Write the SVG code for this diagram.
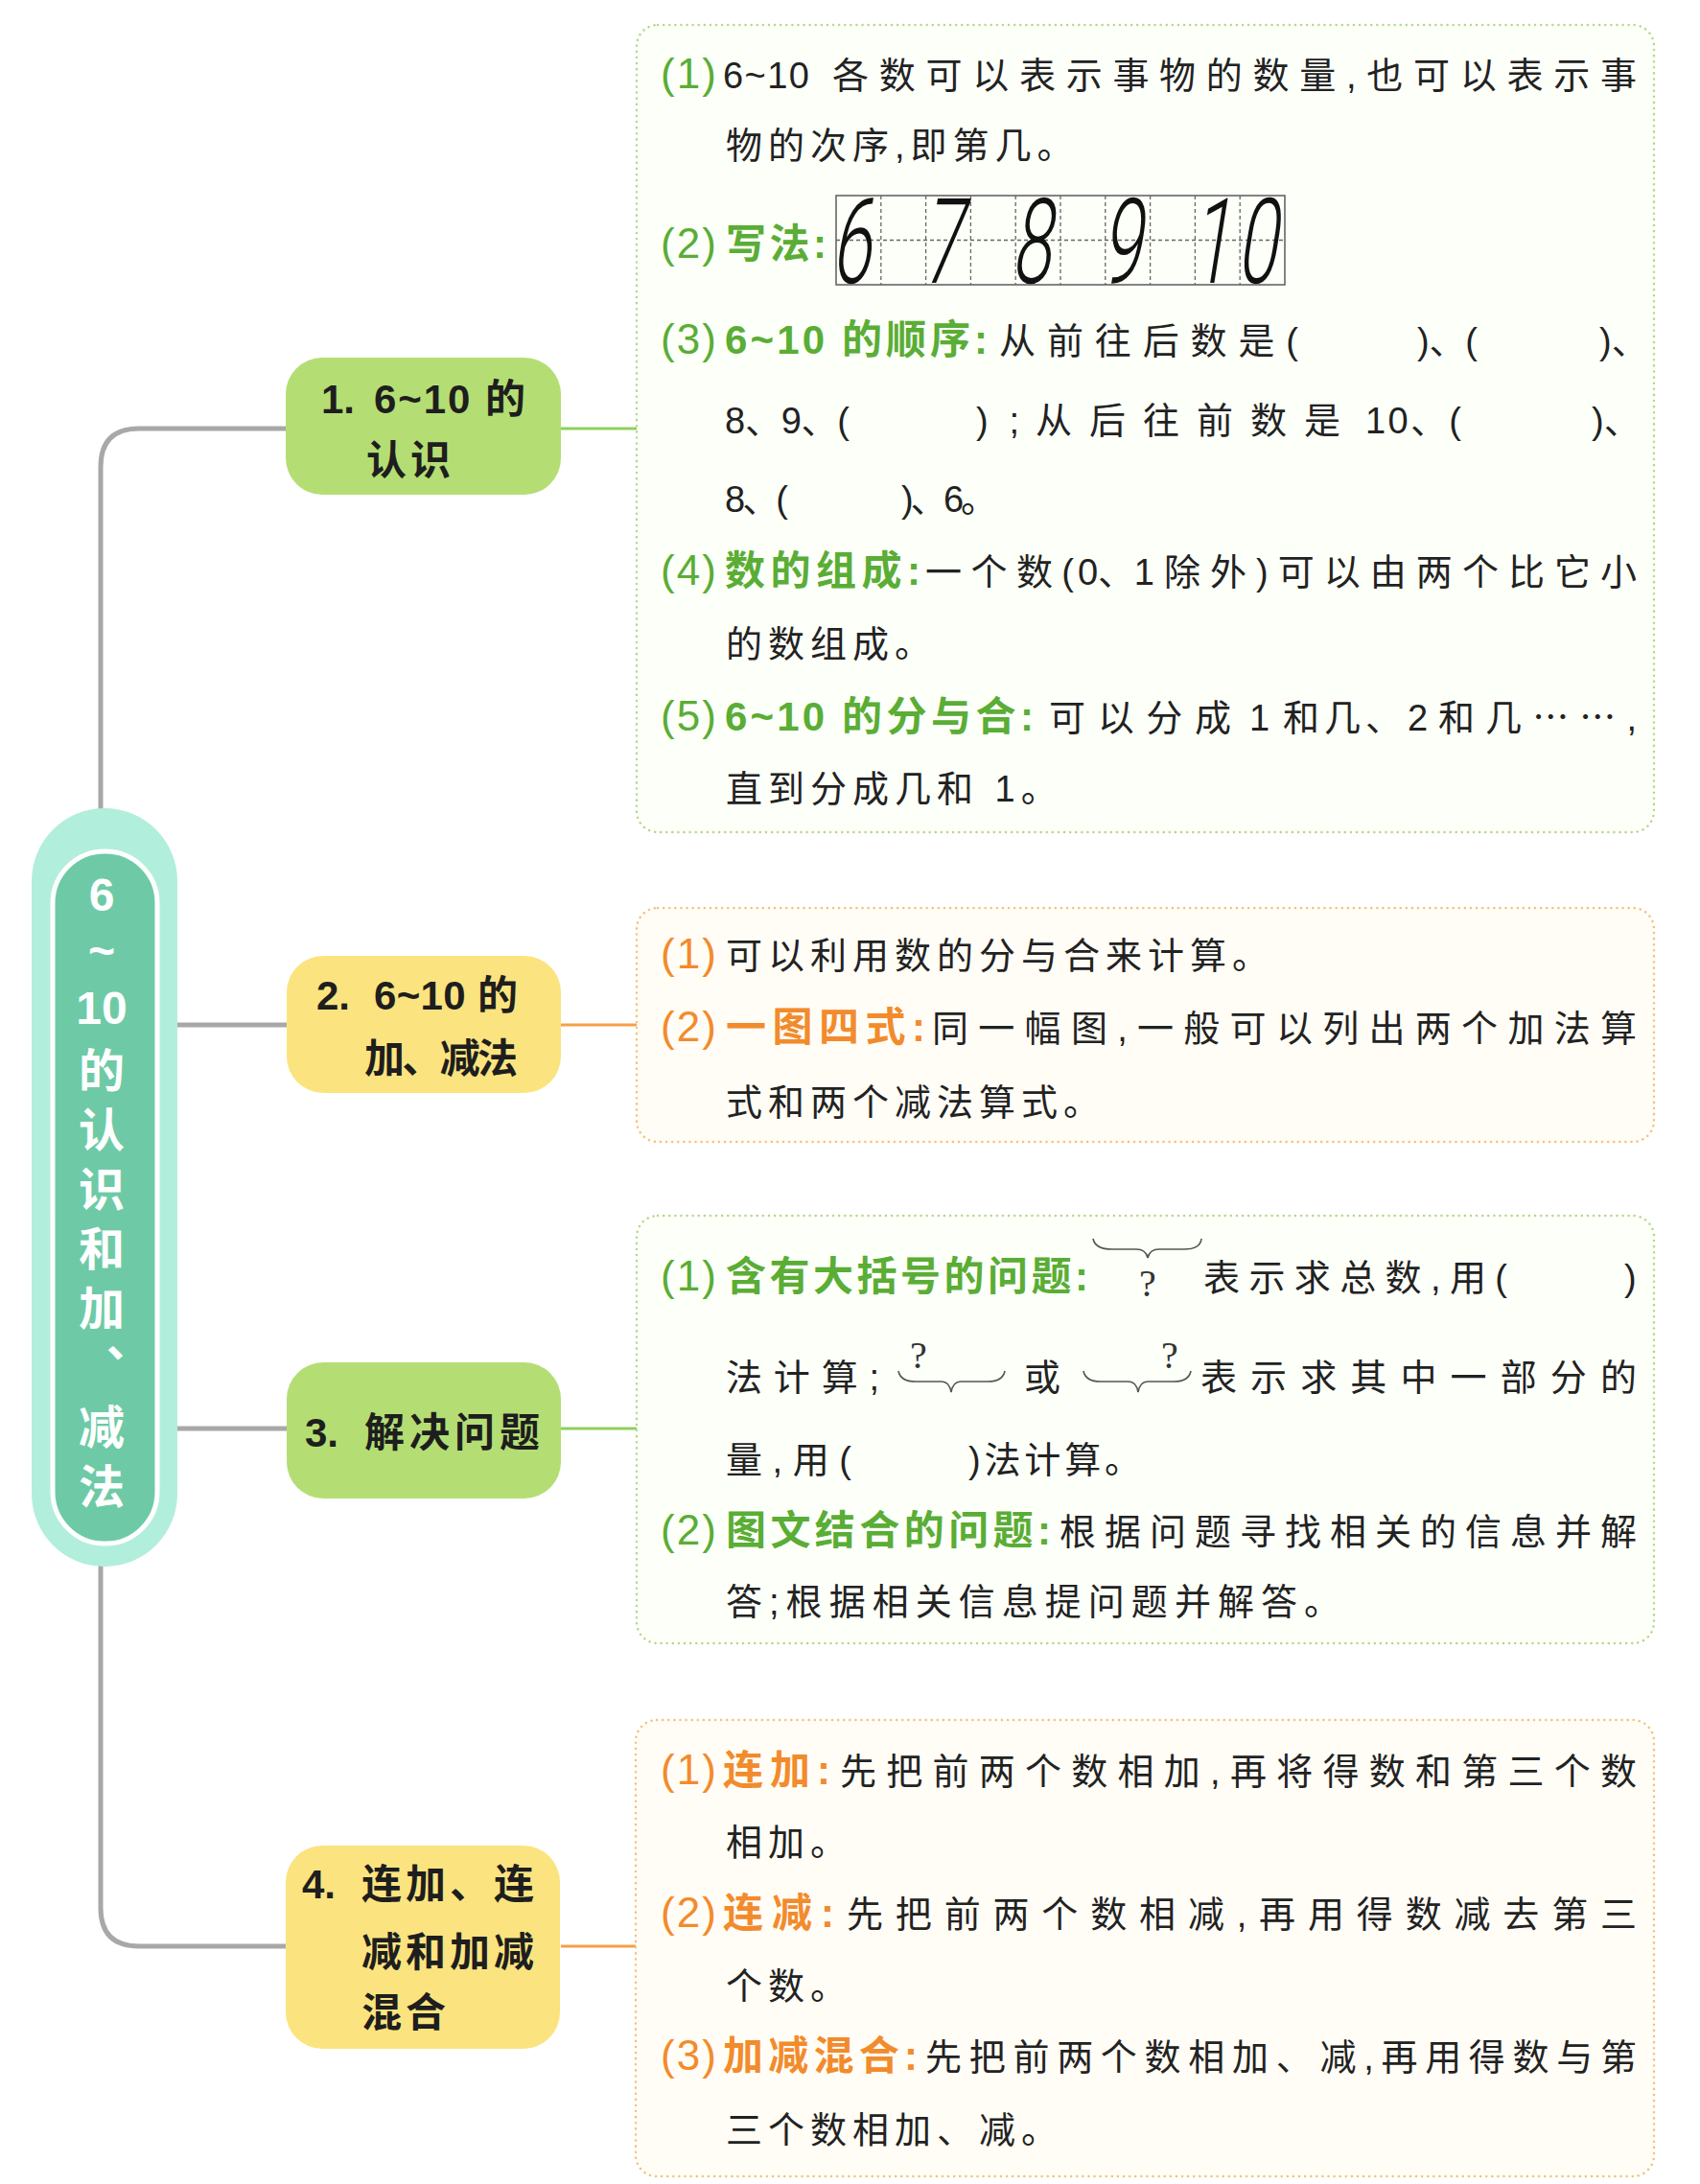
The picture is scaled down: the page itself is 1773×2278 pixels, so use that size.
<svg xmlns="http://www.w3.org/2000/svg" width="1773" height="2278" viewBox="0 0 1773 2278">
<style>
.b{font-family:'Liberation Sans','Noto Sans CJK SC',sans-serif;font-size:38px;fill:#222}
.ls{letter-spacing:6px}
.pg{font-family:'Liberation Sans',sans-serif;font-size:44px;fill:#5aad35}
.po{font-family:'Liberation Sans',sans-serif;font-size:44px;fill:#f28b2c}
.lg{font-family:'Liberation Sans','Noto Sans CJK SC',sans-serif;font-size:42px;font-weight:700;fill:#5aad35}
.lo{font-family:'Liberation Sans','Noto Sans CJK SC',sans-serif;font-size:42px;font-weight:700;fill:#f28b2c}
.nt{font-family:'Liberation Sans','Noto Sans CJK SC',sans-serif;font-size:42px;font-weight:700;fill:#1e1e1e}
.rt{font-family:'Liberation Sans','Noto Sans CJK SC',sans-serif;font-size:48px;font-weight:700;fill:#fff;text-anchor:middle}
.rv{font-family:'Noto Sans CJK SC',sans-serif;font-size:48px;font-weight:700;fill:#fff;writing-mode:vertical-rl;text-orientation:upright;letter-spacing:14px}
.gbox{fill:#fdfff9;stroke:#b4d98a;stroke-width:2.5;stroke-dasharray:0.1 6;stroke-linecap:round}
.obox{fill:#fffdf6;stroke:#f3c27c;stroke-width:2.5;stroke-dasharray:0.1 6;stroke-linecap:round}
.gn{fill:#b4de74}
.yn{fill:#fbe47f}
.gray{fill:none;stroke:#a8a8a8;stroke-width:5}
.cg{stroke:#8fcf5c;stroke-width:3}
.co{stroke:#f5a04a;stroke-width:3}
.hw{font-family:Roboto,'Liberation Sans',sans-serif;font-weight:300;font-size:124px;fill:#111;text-anchor:middle}
.dash{stroke:#666;stroke-width:1.3;stroke-dasharray:4 3}
.brace{fill:none;stroke:#555;stroke-width:1.6}
.q{font-family:'Liberation Serif',serif;font-size:40px;fill:#333;text-anchor:middle}
</style>

<g id="connectors">
  <path class="gray" d="M300 447 H145 Q105 447 105 487 V1990 Q105 2030 145 2030 H300"/>
  <path class="gray" d="M185 1069 H300 M185 1490 H300"/>
  <line class="cg" x1="585" y1="447" x2="664" y2="447"/>
  <line class="co" x1="585" y1="1069" x2="664" y2="1069"/>
  <line class="cg" x1="585" y1="1490" x2="664" y2="1490"/>
  <line class="co" x1="585" y1="2030" x2="663" y2="2030"/>
</g>

<g id="root">
  <rect x="33" y="843" width="152" height="791" rx="76" fill="#b2eedc"/>
  <rect x="55" y="888" width="109" height="722" rx="54" fill="#6ecaa6" stroke="#ffffff" stroke-width="5"/>
  <text class="rt" x="106" y="950">6</text>
  <text class="rt" x="106" y="1008">~</text>
  <text class="rt" x="106" y="1068">10</text>
  <text class="rv" x="106" y="1092">的认识和加、减法</text>
</g>

<g id="node1">
  <rect class="gn" x="298" y="373" width="287" height="143" rx="38"/>
  <text class="nt" x="335" y="431">1.</text>
  <text class="nt" x="390" y="431" textLength="158" lengthAdjust="spacing">6~10 的</text>
  <text class="nt" x="382" y="495" textLength="88" lengthAdjust="spacing">认识</text>
</g>

<g id="node2">
  <rect class="yn" x="299" y="997" width="286" height="143" rx="38"/>
  <text class="nt" x="330" y="1053">2.</text>
  <text class="nt" x="390" y="1053" textLength="150" lengthAdjust="spacing">6~10 的</text>
  <text class="nt" x="380" y="1119" textLength="160" lengthAdjust="spacing">加、减法</text>
</g>

<g id="node3">
  <rect class="gn" x="299" y="1421" width="286" height="142" rx="38"/>
  <text class="nt" x="318" y="1509">3.</text>
  <text class="nt" x="380" y="1509" textLength="183" lengthAdjust="spacing">解决问题</text>
</g>

<g id="node4">
  <rect class="yn" x="298" y="1925" width="286" height="212" rx="38"/>
  <text class="nt" x="315" y="1980">4.</text>
  <text class="nt" x="377" y="1980" textLength="180" lengthAdjust="spacing">连加、连</text>
  <text class="nt" x="377" y="2051" textLength="180" lengthAdjust="spacing">减和加减</text>
  <text class="nt" x="377" y="2114" textLength="88" lengthAdjust="spacing">混合</text>
</g>

<g id="box1">
  <rect class="gbox" x="664" y="26" width="1061" height="842" rx="22"/>
  <text class="pg" x="689" y="92" textLength="58" lengthAdjust="spacing">(1)</text>
  <text class="b" x="754" y="92" textLength="90" lengthAdjust="spacing">6~10</text>
  <text class="b" x="868" y="92" textLength="839" lengthAdjust="spacing">各数可以表示事物的数量,也可以表示事</text>
  <text class="b ls" x="757" y="165">物的次序,即第几。</text>

  <text class="pg" x="689" y="269" textLength="58" lengthAdjust="spacing">(2)</text>
  <text class="lg" x="757" y="269" textLength="105" lengthAdjust="spacing">写法:</text>
  <g id="grid">
    <rect x="872" y="204" width="468" height="93" fill="none" stroke="#666" stroke-width="1.6"/>
    <path class="dash" d="M918.8 204V297 M965.6 204V297 M1012.4 204V297 M1059.2 204V297 M1106 204V297 M1152.8 204V297 M1199.6 204V297 M1246.4 204V297 M1293.2 204V297 M872 250.5H1340"/>
    <text class="hw" transform="translate(887,295) skewX(-9) scale(0.6,1)">6</text>
    <text class="hw" transform="translate(982,295) skewX(-9) scale(0.6,1)">7</text>
    <text class="hw" transform="translate(1075,295) skewX(-9) scale(0.6,1)">8</text>
    <text class="hw" transform="translate(1169,295) skewX(-9) scale(0.6,1)">9</text>
    <text class="hw" transform="translate(1262,295) skewX(-9) scale(0.6,1)">1</text>
    <text class="hw" transform="translate(1310,295) skewX(-9) scale(0.6,1)">0</text>
  </g>

  <text class="pg" x="689" y="369" textLength="58" lengthAdjust="spacing">(3)</text>
  <text class="lg" x="756" y="369" textLength="104" lengthAdjust="spacing">6~10</text>
  <text class="lg" x="878" y="369" textLength="152" lengthAdjust="spacing">的顺序:</text>
  <text class="b" x="1042" y="369" textLength="312" lengthAdjust="spacing">从前往后数是(</text>
  <text class="b" x="1478" y="369" textLength="63" lengthAdjust="spacing">)、(</text>
  <text class="b" x="1668" y="369">)、</text>

  <text class="b" x="756" y="452" textLength="130" lengthAdjust="spacing">8、9、(</text>
  <text class="b" x="1018" y="452" textLength="45" lengthAdjust="spacing">);</text>
  <text class="b" x="1080" y="452" textLength="318" lengthAdjust="spacing">从后往前数是</text>
  <text class="b" x="1424" y="452" textLength="100" lengthAdjust="spacing">10、(</text>
  <text class="b" x="1660" y="452">)、</text>

  <text class="b" x="756" y="534" textLength="66" lengthAdjust="spacing">8、(</text>
  <text class="b" x="940" y="534" textLength="100" lengthAdjust="spacing">)、6。</text>

  <text class="pg" x="689" y="610" textLength="58" lengthAdjust="spacing">(4)</text>
  <text class="lg" x="756" y="610" textLength="204" lengthAdjust="spacing">数的组成:</text>
  <text class="b" x="965" y="610" textLength="155" lengthAdjust="spacing">一个数(</text>
  <text class="b" x="1124" y="610" textLength="80" lengthAdjust="spacing">0、1</text>
  <text class="b" x="1214" y="610" textLength="493" lengthAdjust="spacing">除外)可以由两个比它小</text>
  <text class="b ls" x="757" y="685">的数组成。</text>

  <text class="pg" x="689" y="762" textLength="58" lengthAdjust="spacing">(5)</text>
  <text class="lg" x="756" y="762" textLength="104" lengthAdjust="spacing">6~10</text>
  <text class="lg" x="878" y="762" textLength="200" lengthAdjust="spacing">的分与合:</text>
  <text class="b" x="1094" y="762" textLength="190" lengthAdjust="spacing">可以分成</text>
  <text class="b" x="1303" y="762">1</text>
  <text class="b" x="1338" y="762" textLength="124" lengthAdjust="spacing">和几、</text>
  <text class="b" x="1468" y="762">2</text>
  <text class="b" x="1500" y="762" textLength="207" lengthAdjust="spacing">和几<tspan font-family="Noto Sans CJK SC">……</tspan>,</text>
  <text class="b ls" x="757" y="836">直到分成几和 1。</text>
</g>

<g id="box2">
  <rect class="obox" x="664" y="947" width="1061" height="244" rx="22"/>
  <text class="po" x="689" y="1010" textLength="58" lengthAdjust="spacing">(1)</text>
  <text class="b ls" x="757" y="1010">可以利用数的分与合来计算。</text>
  <text class="po" x="689" y="1086" textLength="58" lengthAdjust="spacing">(2)</text>
  <text class="lo" x="757" y="1086" textLength="208" lengthAdjust="spacing">一图四式:</text>
  <text class="b" x="972" y="1086" textLength="735" lengthAdjust="spacing">同一幅图,一般可以列出两个加法算</text>
  <text class="b ls" x="757" y="1163">式和两个减法算式。</text>
</g>

<g id="box3">
  <rect class="gbox" x="664" y="1268" width="1061" height="446" rx="22"/>
  <text class="pg" x="689" y="1346" textLength="58" lengthAdjust="spacing">(1)</text>
  <text class="lg" x="757" y="1346" textLength="378" lengthAdjust="spacing">含有大括号的问题:</text>
  <path class="brace" d="M1140 1292 Q1142 1303 1160 1303 L1185 1303 Q1195 1303 1197 1312 Q1199 1303 1209 1303 L1235 1303 Q1252 1303 1253 1292"/>
  <text class="q" x="1197" y="1352">?</text>
  <text class="b" x="1255" y="1346" textLength="317" lengthAdjust="spacing">表示求总数,用(</text>
  <text class="b" x="1694" y="1346">)</text>

  <text class="b" x="757" y="1450" textLength="160" lengthAdjust="spacing">法计算;</text>
  <path class="brace" d="M937 1430 Q939 1441 955 1441 L982 1441 Q990 1441 992 1452 Q994 1441 1002 1441 L1030 1441 Q1046 1441 1048 1430"/>
  <text class="q" x="958" y="1427">?</text>
  <text class="b" x="1068" y="1450">或</text>
  <path class="brace" d="M1130 1430 Q1132 1441 1148 1441 L1177 1441 Q1185 1441 1187 1452 Q1189 1441 1197 1441 L1224 1441 Q1240 1441 1242 1430"/>
  <text class="q" x="1220" y="1427">?</text>
  <text class="b" x="1252" y="1450" textLength="455" lengthAdjust="spacing">表示求其中一部分的</text>

  <text class="b" x="757" y="1536" textLength="131" lengthAdjust="spacing">量,用(</text>
  <text class="b" x="1010" y="1536" textLength="180" lengthAdjust="spacing">)法计算。</text>

  <text class="pg" x="689" y="1611" textLength="58" lengthAdjust="spacing">(2)</text>
  <text class="lg" x="757" y="1611" textLength="339" lengthAdjust="spacing">图文结合的问题:</text>
  <text class="b" x="1105" y="1611" textLength="602" lengthAdjust="spacing">根据问题寻找相关的信息并解</text>
  <text class="b" x="757" y="1684" textLength="641" lengthAdjust="spacing">答;根据相关信息提问题并解答。</text>
</g>

<g id="box4">
  <rect class="obox" x="663" y="1794" width="1062" height="476" rx="22"/>
  <text class="po" x="689" y="1861" textLength="58" lengthAdjust="spacing">(1)</text>
  <text class="lo" x="754" y="1861" textLength="112" lengthAdjust="spacing">连加:</text>
  <text class="b" x="876" y="1861" textLength="831" lengthAdjust="spacing">先把前两个数相加,再将得数和第三个数</text>
  <text class="b ls" x="757" y="1935">相加。</text>

  <text class="po" x="689" y="2010" textLength="58" lengthAdjust="spacing">(2)</text>
  <text class="lo" x="754" y="2010" textLength="116" lengthAdjust="spacing">连减:</text>
  <text class="b" x="883" y="2010" textLength="824" lengthAdjust="spacing">先把前两个数相减,再用得数减去第三</text>
  <text class="b ls" x="757" y="2085">个数。</text>

  <text class="po" x="689" y="2159" textLength="58" lengthAdjust="spacing">(3)</text>
  <text class="lo" x="754" y="2159" textLength="203" lengthAdjust="spacing">加减混合:</text>
  <text class="b" x="965" y="2159" textLength="742" lengthAdjust="spacing">先把前两个数相加、减,再用得数与第</text>
  <text class="b ls" x="757" y="2235">三个数相加、减。</text>
</g>
</svg>
